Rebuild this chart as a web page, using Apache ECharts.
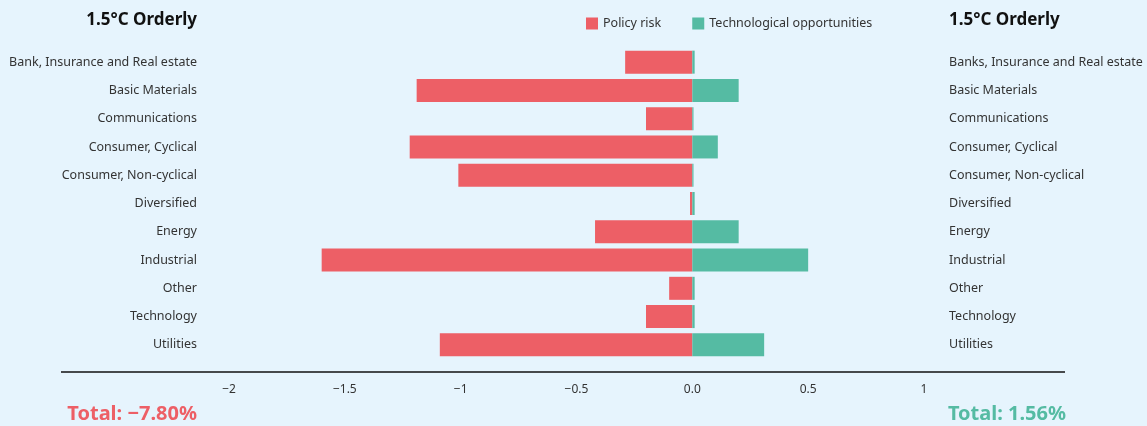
<!DOCTYPE html>
<html lang="en">
<head>
    <meta charset="UTF-8">
    <script src="https://cdn.jsdelivr.net/npm/echarts@6/dist/echarts.min.js"></script>
    <title>1.5°C Orderly</title>
    <style>
        html, body { margin: 0; padding: 0; background: #e6f4fd; }
    </style>
</head>
<body>
<div id="main" style="width: 1147px;height:426px;"></div>

<script type="text/javascript">
    // sectors, top to bottom
    var sectorsLeft = ['Bank, Insurance and Real estate', 'Basic Materials', 'Communications',
        'Consumer, Cyclical', 'Consumer, Non-cyclical', 'Diversified', 'Energy', 'Industrial',
        'Other', 'Technology', 'Utilities'];
    var sectorsRight = ['Banks, Insurance and Real estate', 'Basic Materials', 'Communications',
        'Consumer, Cyclical', 'Consumer, Non-cyclical', 'Diversified', 'Energy', 'Industrial',
        'Other', 'Technology', 'Utilities'];
    var policyRisk = [-0.29, -1.19, -0.20, -1.22, -1.01, -0.01, -0.42, -1.60, -0.10, -0.20, -1.09];
    var techOpp = [0.01, 0.20, 0.005, 0.11, 0.005, 0.01, 0.20, 0.50, 0.01, 0.01, 0.31];
    var xTicks = [-2, 1, 0.5]; // min, max, step
    var totals = ['Total: \u22127.80%', 'Total: 1.56%'];

    var RED = '#ed5f66';
    var GREEN = '#55bba3';
    var FONT = '"Noto Sans", sans-serif';

    var myChart = echarts.init(document.getElementById('main'));

    var option = {
        backgroundColor: '#e6f4fd',
        textStyle: { fontFamily: FONT },
        legend: {
            data: ['Policy risk', 'Technological opportunities'],
            left: 581,
            top: 12,
            icon: 'rect',
            itemWidth: 12,
            itemHeight: 12,
            itemGap: 31,
            textStyle: { fontSize: 12.5, color: '#333', fontFamily: FONT }
        },
        graphic: [
            { type: 'text', right: 1147 - 197, top: 12, style: { text: '1.5°C Orderly', font: 'bold 17px ' + FONT, fill: '#111' } },
            { type: 'text', left: 949, top: 12, style: { text: '1.5°C Orderly', font: 'bold 17px ' + FONT, fill: '#111' } },
            { type: 'line', shape: { x1: 61, y1: 372, x2: 1065, y2: 372 }, style: { stroke: '#111', lineWidth: 1.5 } },
            { type: 'text', right: 1147 - 197, top: 404, style: { text: totals[0], font: 'bold 20px ' + FONT, fill: RED } },
            { type: 'text', right: 1147 - 1066, top: 404, style: { text: totals[1], font: 'bold 20px ' + FONT, fill: GREEN } }
        ],
        grid: { left: 229, right: 1147 - 924, top: 48, bottom: 67 },
        xAxis: {
            type: 'value',
            min: xTicks[0],
            max: xTicks[1],
            interval: xTicks[2],
            axisLine: { show: false },
            axisTick: { show: false },
            splitLine: { show: false },
            axisLabel: {
                margin: 25,
                fontSize: 12,
                color: '#333',
                formatter: function (v) {
                    if (v === 0) return '0.0';
                    return v < 0 ? '\u2212' + Math.abs(v) : String(v);
                }
            }
        },
        yAxis: [
            {
                type: 'category',
                data: sectorsLeft,
                inverse: true,
                position: 'left',
                axisLine: { show: false },
                axisTick: { show: false },
                axisLabel: { margin: 32, fontSize: 12.5, color: '#333' }
            },
            {
                type: 'category',
                data: sectorsRight,
                inverse: true,
                position: 'right',
                axisLine: { show: false },
                axisTick: { show: false },
                axisLabel: { margin: 25, fontSize: 12.5, color: '#333' }
            }
        ],
        series: [
            {
                name: 'Policy risk',
                type: 'bar',
                stack: 'total',
                barWidth: 23,
                itemStyle: { color: RED },
                data: policyRisk
            },
            {
                name: 'Technological opportunities',
                type: 'bar',
                stack: 'total',
                barWidth: 23,
                itemStyle: { color: GREEN },
                data: techOpp
            }
        ]
    };
    myChart.setOption(option);
</script>
</body>
</html>
